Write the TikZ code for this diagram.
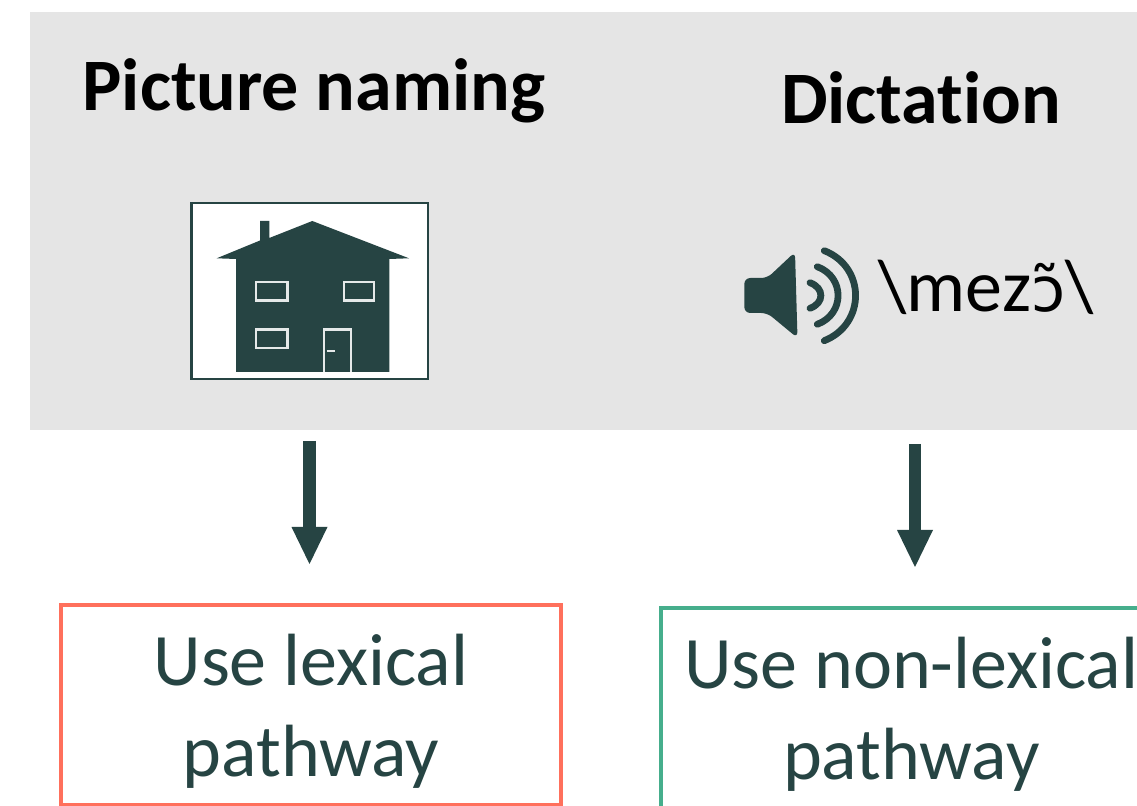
\documentclass[tikz,border=0pt]{standalone}
\usepackage{fontspec}
\setmainfont[Ligatures=NoCommon]{Carlito}
\newfontfamily\ipafont{DejaVu Sans}
\newcommand\dropstrut{\rule{0pt}{32pt}}
\definecolor{dark}{HTML}{264443}
\definecolor{panelgrey}{HTML}{E5E5E5}
\definecolor{coral}{HTML}{FF705C}
\definecolor{teal}{HTML}{46AE8C}
\usetikzlibrary{arrows.meta}
\tikzset{
  x=0.5pt,y=-0.5pt,
  title/.style={font=\fontsize{37}{40}\selectfont\bfseries,text=black,inner sep=0pt,anchor=base},
  result/.style={font=\fontsize{37}{45.5}\selectfont,text=dark,align=center,draw,line width=2pt,inner sep=0pt,outer sep=0pt,minimum height=100pt},
  flow/.style={draw=dark,line width=6.2pt,-{Triangle[length=18.5pt,width=18pt,line width=0pt]}},
  wave/.style={draw=dark,line width=3.4pt,line cap=round},
}
\begin{document}
\begin{tikzpicture}
\clip (0,0) rectangle (1137,806);
\fill[white] (0,0) rectangle (1137,806);
\fill[panelgrey] (30,12) rectangle (1137,430);
\node[title] (t1) at (314,110.5) {Picture naming};
\node[title] (t2) at (921,123.5) {Dictation};
% house picture
\draw[dark,fill=white,line width=1.2pt] (191.5,203) rectangle (428,379);
\fill[dark] (260,221) -- (269.3,221) -- (269.3,238) -- (312.3,221) -- (409,258.3) -- (389.3,259) -- (389.3,372) -- (236,372) -- (236,259) -- (216.7,258.3) -- (260,240.5) -- cycle;
\draw[white!88!dark,line width=1.2pt] (256,282) rectangle (287.3,300.7)
  (343.7,282) rectangle (374,300.7)
  (256,329.7) rectangle (287.3,348.3)
  (323.7,372) -- (323.7,329.7) -- (350.7,329.7) -- (350.7,372)
  (326.7,351) -- (335,351);
% speaker
\fill[dark,rounded corners=3pt] (744.3,278) -- (767.3,278) -- (795,252) -- (797.5,338) -- (767.3,313) -- (744.3,313) -- cycle;
\coordinate (w1a) at (810,282.7); \coordinate (w1b) at (810,308.3);
\coordinate (w2a) at (817.3,266.7); \coordinate (w2b) at (817.3,324.3);
\coordinate (w3a) at (824.3,250.7); \coordinate (w3b) at (824.3,340.7);
\draw[wave] (w1a) .. controls (824.5,288) and (824.5,303) .. (w1b);
\draw[wave] (w2a) .. controls (845,277) and (845,314) .. (w2b);
\draw[wave] (w3a) .. controls (866,267) and (866,324) .. (w3b);
\node[font=\fontsize{37}{40}\selectfont,text=black,inner sep=0pt,anchor=base] (word) at (986,312) {\textbackslash mez{\ipafont\fontsize{31}{40}\selectfont ɔ̃}\textbackslash};
% result boxes
\node[result,draw=coral,minimum width=249.6pt] (lex) at (310.9,704.7) {\dropstrut Use lexical\\pathway};
\node[result,draw=teal,minimum width=250pt,anchor=west] (nonlex) at (661.3,708) {\dropstrut Use non-lexical\\pathway};
% arrows
\coordinate (a1) at (309.5,441); \coordinate (b1) at (309.5,564);
\coordinate (a2) at (915,444); \coordinate (b2) at (915,567);
\draw[flow] (a1) -- (b1);
\draw[flow] (a2) -- (b2);
\end{tikzpicture}
\end{document}
